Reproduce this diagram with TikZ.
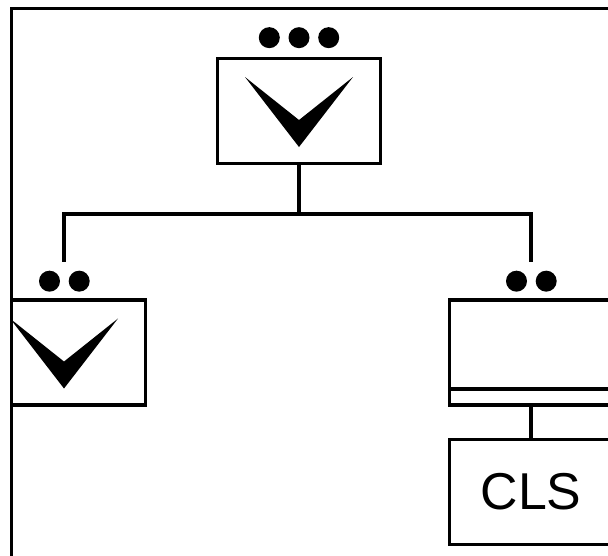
\documentclass[tikz,border=0pt]{standalone}
\usepackage{fontspec}
\newfontfamily\clsfont{Liberation Sans}
\usetikzlibrary{positioning}

\begin{document}
\begin{tikzpicture}[
    box/.style={draw, line width=0.065cm, minimum width=3.26cm, minimum height=2.1cm, inner sep=0pt, outer sep=0pt},
    dot/.style={circle, fill, inner sep=0pt, minimum size=0.42cm},
    wire/.style={line width=0.065cm},
    vmark/.pic={\fill (-1.08,0.68) -- (0,-0.18) -- (1.08,0.68) -- (0,-0.72) -- cycle;},
]
    \useasboundingbox (0,0) rectangle (12.16,-11.1);

    \begin{scope}
    \clip (0.226,-0.17) rectangle (12.16,-11.1);

    % Root
    \node[box] (root) at (5.98,-2.22) {};
    \pic at (root) {vmark};
    \node[dot, above=0.2cm of root] (rootdotb) {};
    \node[dot, left=0.16cm of rootdotb] (rootdota) {};
    \node[dot, right=0.16cm of rootdotb] (rootdotc) {};

    % Left child
    \node[box] (leftsub) at (1.28,-7.05) {};
    \pic at (leftsub) {vmark};
    \node[dot, above=0.16cm of leftsub, xshift=-0.29cm] (leftdota) {};
    \node[dot, right=0.16cm of leftdota] (leftdotb) {};

    % Right child
    \node[box] (rightsub) at (10.62,-7.05) {};
    \draw[wire] ([yshift=0.32cm]rightsub.south west) -- ([yshift=0.32cm]rightsub.south east);
    \node[dot, above=0.16cm of rightsub, xshift=-0.29cm] (rightdota) {};
    \node[dot, right=0.16cm of rightdota] (rightdotb) {};

    % Class
    \node[box, font=\clsfont\fontsize{29.5}{33}\selectfont] (cls) at (10.62,-9.84) {CLS};

    % Links
    \coordinate (bus) at ([yshift=-1.01cm]root.south);
    \coordinate (lefttap) at ([yshift=0.77cm]leftsub.north);
    \coordinate (righttap) at ([yshift=0.77cm]rightsub.north);
    \draw[wire] (root.south) -- (bus);
    \draw[wire] (lefttap) |- (bus) -| (righttap);
    \draw[wire] (rightsub.south) -- (cls.north);
    \end{scope}

    % Frame
    \draw[wire] (0.226,-11.3) -- (0.226,-0.17) -- (12.4,-0.17);
\end{tikzpicture}
\end{document}
